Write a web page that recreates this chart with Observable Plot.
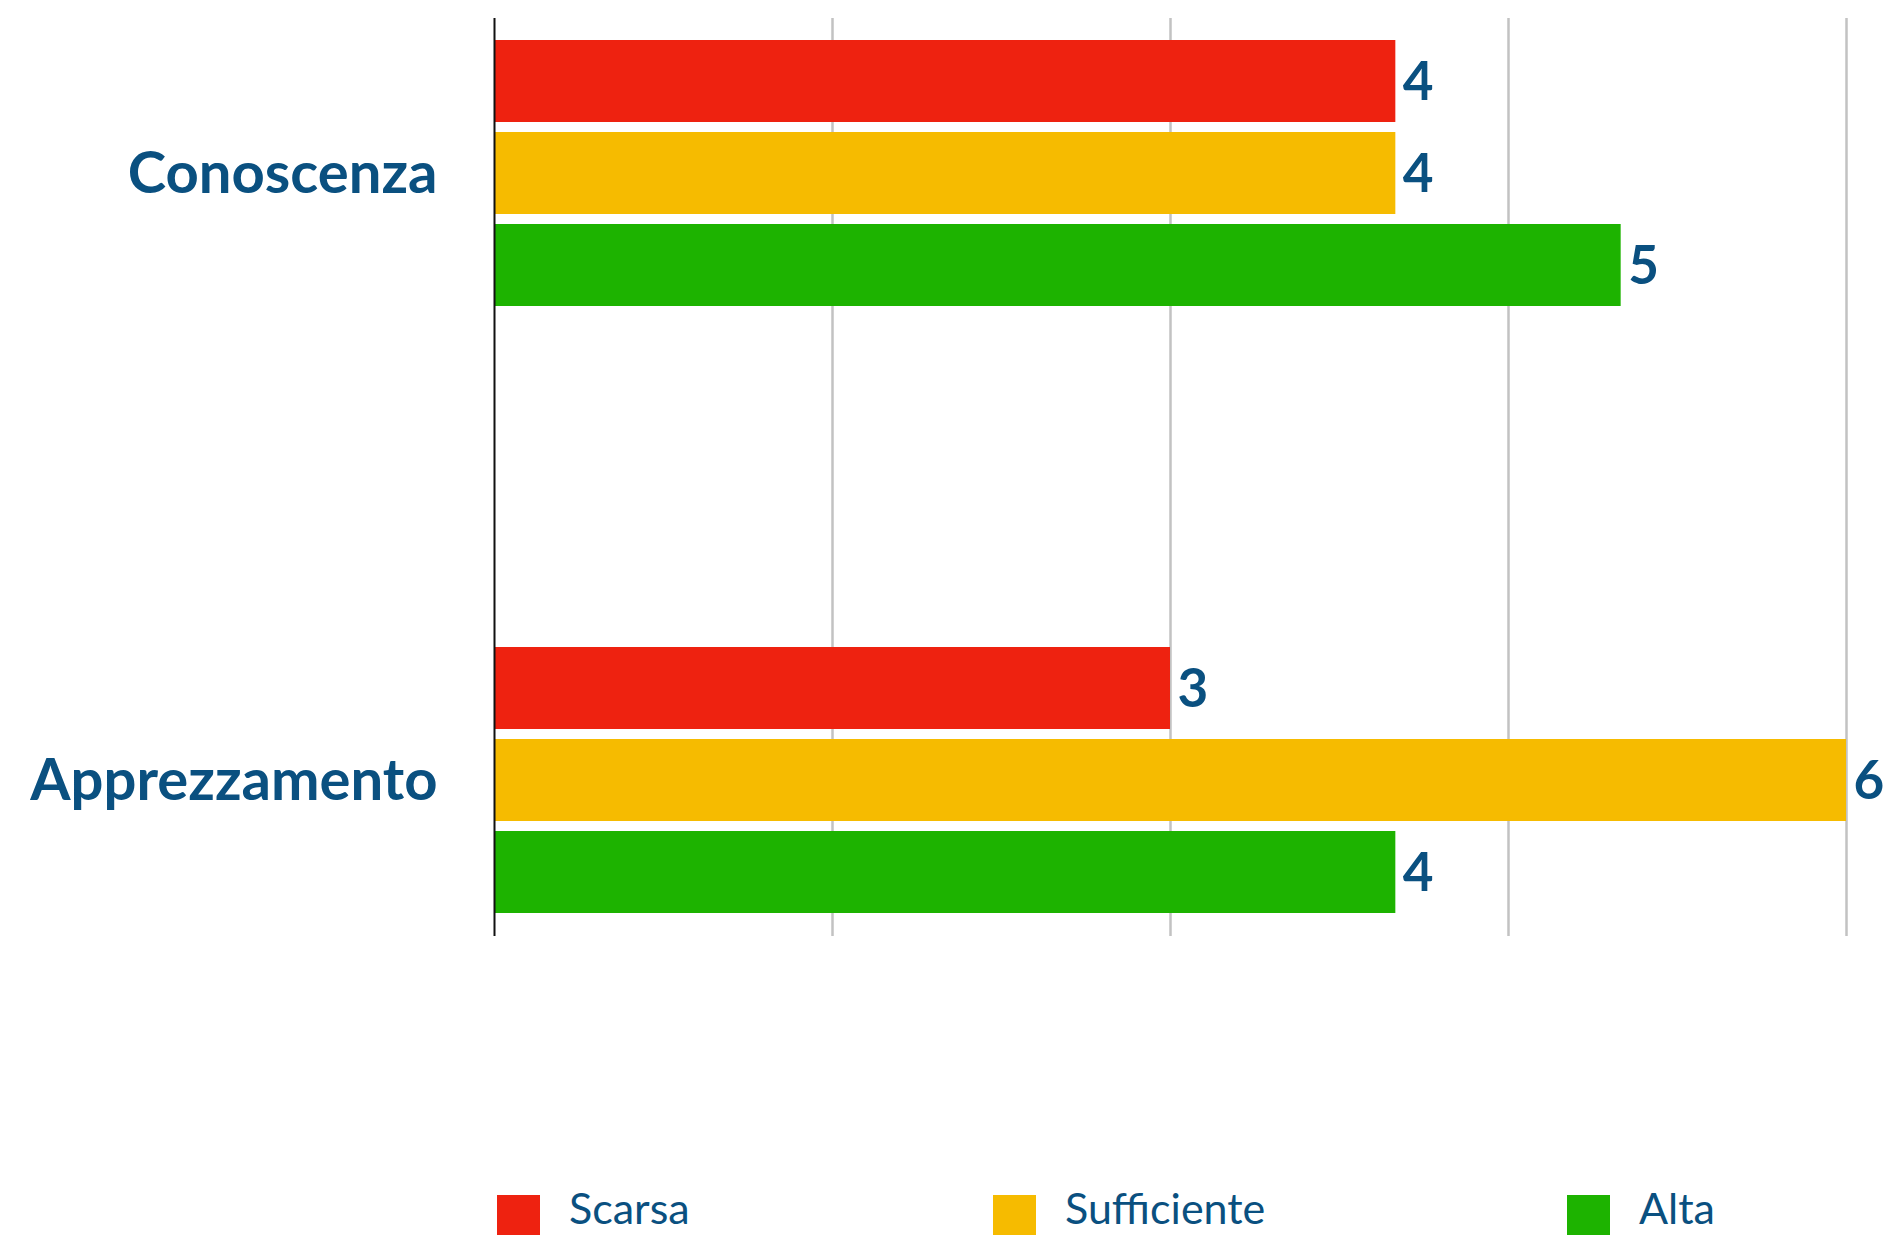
<!DOCTYPE html>
<html>
<head>
<meta charset="utf-8">
<script src="https://cdn.jsdelivr.net/npm/d3@7"></script>
<script src="https://cdn.jsdelivr.net/npm/@observablehq/plot@0.6"></script>
<style>
  html, body { margin: 0; padding: 0; background: #fff; width: 1888px; height: 1235px; overflow: hidden; }
  .layer { position: absolute; left: 0; top: 0; }
  .layer svg { overflow: visible; }
  #legend { position: absolute; left: 0; top: 1195px; width: 1888px; height: 40px; font-family: Lato, sans-serif; }
  .item { position: absolute; top: 0; display: flex; align-items: flex-start; }
  .sw { width: 43px; height: 43px; }
  .lbl { font-size: 43px; line-height: 38px; color: #0a5080; margin-left: 29px; margin-top: -6px; white-space: nowrap; }
</style>
</head>
<body>
<div id="grid" class="layer"></div>
<div id="chart" class="layer"></div>
<div id="axis" class="layer"></div>
<div id="legend"></div>
<script>
const categories = ["Conoscenza", "Apprezzamento"];
const levels = ["Scarsa", "Sufficiente", "Alta"];
const levelColors = ["#ee2210", "#f6bb00", "#1db300"];
const valuesScarsa = [4, 3];
const valuesSufficiente = [4, 6];
const valuesAlta = [5, 4];
const gridTicks = [1.5, 3, 4.5, 6];
const legendLeft = [497, 993, 1567];

const seriesValues = [valuesScarsa, valuesSufficiente, valuesAlta];
const data = [];
categories.forEach((c, ci) => {
  levels.forEach((l, li) => {
    data.push({category: c, level: l, value: seriesValues[li][ci]});
  });
});

const textColor = "#0a5080";
const common = {
  width: 1888,
  height: 960,
  marginTop: 18,
  marginBottom: 24,
  marginLeft: 494,
  marginRight: 42,
  style: {fontFamily: "Lato, sans-serif", background: "transparent"},
  x: {domain: [0, 6], axis: null}
};

// background layer: vertical gridlines across the full frame
const grid = Plot.plot({
  ...common,
  marks: [Plot.ruleX(gridTicks, {stroke: "#c2c2c2", strokeWidth: 2.5})]
});
document.getElementById("grid").appendChild(grid);

// main layer: grouped bars, values and category labels
const chart = Plot.plot({
  ...common,
  y: {domain: levels, axis: null, paddingInner: 0.108, paddingOuter: 0.057},
  fy: {domain: categories, paddingInner: 0.543, paddingOuter: 0.0265, axis: null, label: null},
  color: {domain: levels, range: levelColors},
  marks: [
    Plot.barX(data, {x: "value", y: "level", fy: "category", fill: "level"}),
    Plot.text(data, {x: "value", y: "level", fy: "category", text: d => String(d.value),
      textAnchor: "start", dx: 7, dy: 2, fontSize: 53, fontWeight: "bold", fill: textColor}),
    Plot.axisFy({anchor: "left", label: null, tickSize: 0, tickPadding: 57, fontSize: 58, fontWeight: "bold", fill: textColor})
  ]
});
document.getElementById("chart").appendChild(chart);

// top layer: the zero axis line
const axis = Plot.plot({
  ...common,
  marks: [Plot.ruleX([0], {stroke: "#111", strokeWidth: 2})]
});
document.getElementById("axis").appendChild(axis);

const legend = document.getElementById("legend");
levels.forEach((l, i) => {
  const item = document.createElement("div");
  item.className = "item";
  item.style.left = legendLeft[i] + "px";
  const sw = document.createElement("div");
  sw.className = "sw";
  sw.style.background = levelColors[i];
  const lbl = document.createElement("div");
  lbl.className = "lbl";
  lbl.textContent = l;
  item.appendChild(sw);
  item.appendChild(lbl);
  legend.appendChild(item);
});
</script>
</body>
</html>
